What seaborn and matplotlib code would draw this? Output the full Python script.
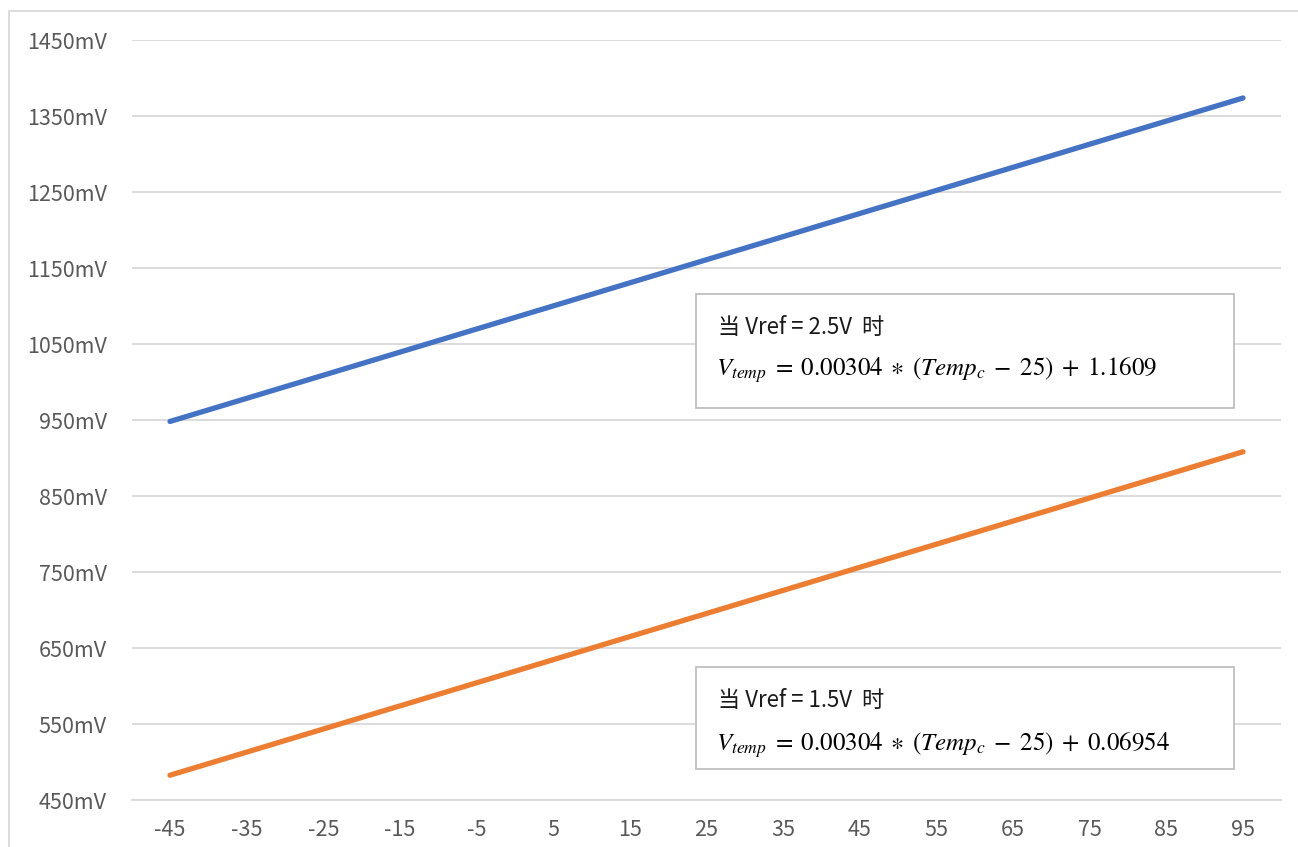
import numpy as np
import pandas as pd
import matplotlib
matplotlib.use('Agg')
import matplotlib.pyplot as plt
from matplotlib.patches import Rectangle
import seaborn as sns

# datos (mV)
temps = [-45, -35, -25, -15, -5, 5, 15, 25, 35, 45, 55, 65, 75, 85, 95]
v_25 = [948.1, 978.5, 1008.9, 1039.3, 1069.7, 1100.1, 1130.5, 1160.9,
        1191.3, 1221.7, 1252.1, 1282.5, 1312.9, 1343.3, 1373.7]
v_15 = [482.6, 513.0, 543.4, 573.8, 604.2, 634.6, 665.0, 695.4,
        725.8, 756.2, 786.6, 817.0, 847.4, 877.8, 908.2]
y_ticks = [450, 550, 650, 750, 850, 950, 1050, 1150, 1250, 1350, 1450]

texto_1 = ['当 Vref = 2.5V  时',
           r'$V_{temp}\;=\;0.00304\;\ast\;(Temp_c\;-\;25)\;+\;1.1609$']
texto_2 = ['当 Vref = 1.5V  时',
           r'$V_{temp}\;=\;0.00304\;\ast\;(Temp_c\;-\;25)\;+\;0.06954$']

df = pd.DataFrame({'Temp': temps * 2,
                   'V': v_25 + v_15,
                   'Serie': ['2.5V'] * len(temps) + ['1.5V'] * len(temps)})

sns.set_style('white')
plt.rcParams['font.family'] = ['Noto Sans CJK SC', 'DejaVu Sans']
plt.rcParams['mathtext.fontset'] = 'stix'
plt.rcParams['axes.unicode_minus'] = False

W, H = 1298, 847
fig = plt.figure(figsize=(W / 100, H / 100), dpi=100)
ax = fig.add_axes([131.7 / W, 1 - 800 / H, (1281.3 - 131.7) / W, (800 - 40) / H])

sns.lineplot(data=df, x='Temp', y='V', hue='Serie', ax=ax,
             palette={'2.5V': '#4472C4', '1.5V': '#ED7D31'},
             linewidth=3.8, legend=False, zorder=3)
for l in ax.lines:
    l.set_solid_capstyle('round')

ax.set_xlim(-50, 100)
ax.set_ylim(450, 1450)
ax.set_xticks(temps)
ax.set_yticks(y_ticks)
ax.set_yticklabels([f'{v}mV' for v in y_ticks])
ax.set_xlabel('')
ax.set_ylabel('')
ax.tick_params(axis='both', length=0, labelsize=15.5, colors='#595959')
ax.tick_params(axis='y', pad=18)
ax.tick_params(axis='x', pad=14)
ax.grid(axis='y', color='#d9d9d9', linewidth=1.3)
ax.set_axisbelow(True)
for s in ['top', 'left', 'right']:
    ax.spines[s].set_visible(False)
ax.spines['bottom'].set_color('#d9d9d9')
ax.spines['bottom'].set_linewidth(1.3)

# borde exterior
fig.patches.append(Rectangle((9 / W, -0.1), 1.2, 1 - 11 / H + 0.1,
                             transform=fig.transFigure, fill=False,
                             edgecolor='#d9d9d9', linewidth=1.3, zorder=0))

# cuadros de texto
def caja(x0, y0, x1, y1, lineas, yc):
    fig.patches.append(Rectangle((x0 / W, 1 - y1 / H), (x1 - x0) / W, (y1 - y0) / H,
                                 transform=fig.transFigure, facecolor='white',
                                 edgecolor='#bfbfbf', linewidth=1.3, zorder=5))
    fig.text(718 / W, 1 - yc[0] / H, lineas[0], fontsize=16, color='#1a1a1a',
             va='center', ha='left', zorder=6)
    fig.text(716 / W, 1 - yc[1] / H, lineas[1], fontsize=18, color='black',
             va='center', ha='left', zorder=6)

caja(696, 294, 1234, 408, texto_1, (327, 370))
caja(696, 667, 1234, 769, texto_2, (700, 745))

fig.savefig('out.png', dpi=100, facecolor='white')
